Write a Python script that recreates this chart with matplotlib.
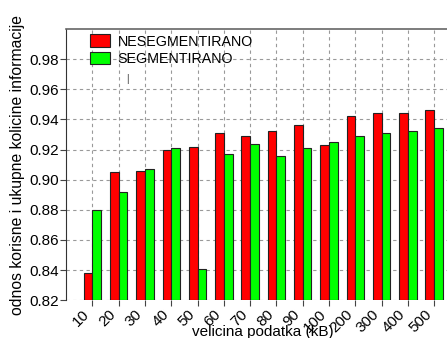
import numpy as np
import matplotlib
matplotlib.use('Agg')
from matplotlib import pyplot as plt

plt.rcParams['font.family'] = ['Liberation Sans', 'DejaVu Sans']

sizes = ['10', '20', '30', '40', '50', '60', '70', '80', '90', '100',
         '200', '300', '400', '500']
nesegmentirano = [0.838, 0.905, 0.906, 0.920, 0.922, 0.931, 0.929, 0.932,
                  0.936, 0.923, 0.942, 0.944, 0.944, 0.946]
segmentirano = [0.880, 0.892, 0.907, 0.921, 0.841, 0.917, 0.924, 0.916,
                0.921, 0.925, 0.929, 0.931, 0.932, 0.934]
yticks = [0.82, 0.84, 0.86, 0.88, 0.90, 0.92, 0.94, 0.96, 0.98]

fig = plt.figure(figsize=(4.47, 3.38), dpi=100)
# axes runs past the right edge of the figure
ax = fig.add_axes([0.148, 0.112, 0.882, 0.802])

x = np.arange(1, len(sizes) + 1)
w = 0.33
base = 0.82
ax.bar(x - w / 2, np.array(nesegmentirano) - base, w, bottom=base,
       color='#ff0000', edgecolor='#222222', linewidth=0.8,
       label='NESEGMENTIRANO', zorder=3)
ax.bar(x + w / 2, np.array(segmentirano) - base, w, bottom=base,
       color='#00ff00', edgecolor='#222222', linewidth=0.8,
       label='SEGMENTIRANO', zorder=3)

ax.set_xlim(0, 15)
ax.set_ylim(0.82, 1.0)
ax.set_xticks(x)
ax.set_xticklabels(sizes, rotation=45, ha='right', fontsize=11)
ax.set_yticks(yticks)
ax.set_yticklabels(['%.2f' % v for v in yticks], fontsize=11)
ax.tick_params(axis='both', direction='out', length=4, width=0.8,
               color='#444444')
ax.tick_params(axis='y', pad=1)
ax.tick_params(axis='x', pad=1)

ax.grid(True, linestyle=(0, (3, 3)), color='#999999', linewidth=0.8,
        zorder=0)
ax.set_axisbelow(True)

for side in ['bottom', 'right']:
    ax.spines[side].set_visible(False)
ax.spines['left'].set_color('#333333')
ax.spines['top'].set_color('#666666')
ax.spines['top'].set_linewidth(1.2)

ax.set_xlabel('velicina podatka (kB)', fontsize=11, labelpad=-7)
ax.set_ylabel('odnos korisne i ukupne kolicine informacije', fontsize=11.3,
              labelpad=3)

ax.legend(loc='upper left', bbox_to_anchor=(0.061, 0.98), frameon=False,
          fontsize=10.3, handlelength=1.4, handleheight=0.95,
          handletextpad=0.5, labelspacing=0.22, borderpad=0,
          borderaxespad=0)

ax.text(2.32, 0.9667, '|', fontsize=7, color='#333333', ha='center',
        va='center')

fig.savefig('out.png', dpi=100)
